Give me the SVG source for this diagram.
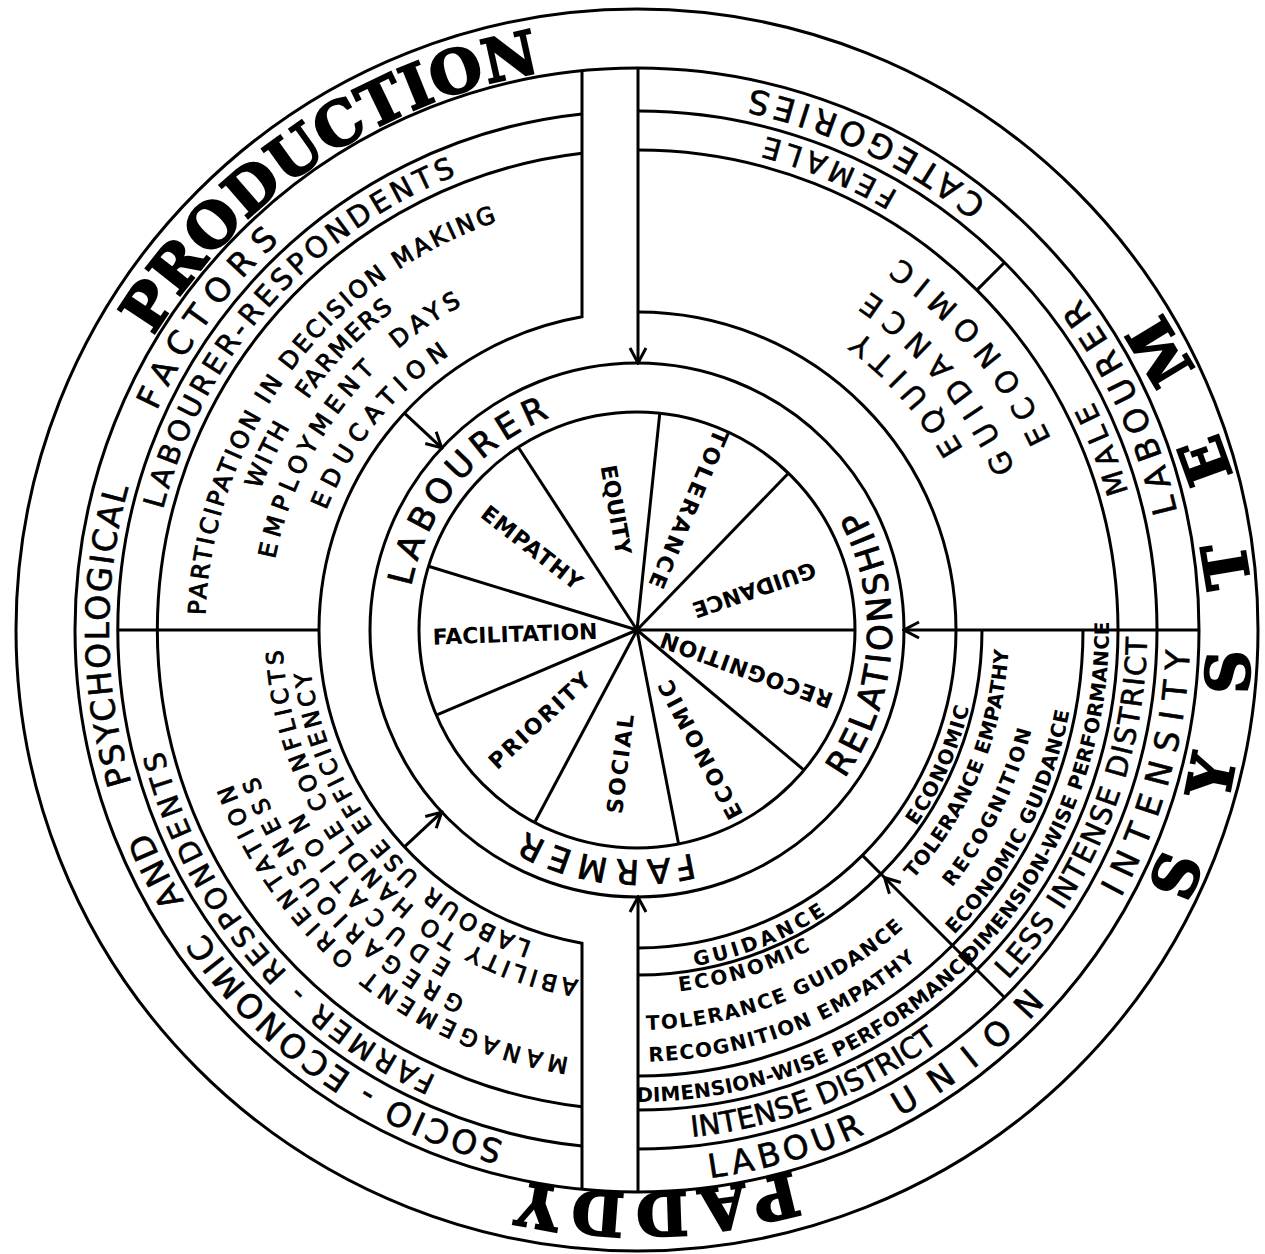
<svg xmlns="http://www.w3.org/2000/svg" width="1265" height="1254" viewBox="0 0 1265 1254">
<style>
.ln{fill:none;stroke:#000;stroke-width:3}
.big{font-family:"DejaVu Serif",serif;font-weight:bold;font-size:60px;text-anchor:middle;stroke:#000;stroke-width:2.2}
.r1{font-family:"DejaVu Sans",sans-serif;font-size:33px;text-anchor:middle;stroke:#000;stroke-width:0.6}
.r2{font-family:"DejaVu Sans",sans-serif;font-size:29px;text-anchor:middle;stroke:#000;stroke-width:0.6}
.tx{font-family:"DejaVu Sans",sans-serif;font-size:24px;text-anchor:middle;stroke:#000;stroke-width:0.9}
.tx2{font-family:"DejaVu Sans",sans-serif;font-size:23px;text-anchor:middle;stroke:#000;stroke-width:0.9}
.sm{font-family:"DejaVu Sans",sans-serif;font-weight:bold;font-size:20px;text-anchor:middle}
.md{font-family:"DejaVu Sans",sans-serif;font-size:30px;text-anchor:middle;stroke:#000;stroke-width:0.5}
.wh{font-family:"DejaVu Sans",sans-serif;font-weight:bold;font-size:22px;text-anchor:middle;dominant-baseline:central}
.lb{font-family:"DejaVu Sans",sans-serif;font-size:34px;text-anchor:middle;stroke:#000;stroke-width:0.8}
</style>
<defs>
<marker id="ah" markerUnits="userSpaceOnUse" viewBox="-18 -10 20 20" markerWidth="20" markerHeight="20" refX="0" refY="0" orient="auto">
<path d="M-15,-8 L0,0 L-15,8" fill="none" stroke="#000" stroke-width="3"/>
</marker>
<path id="cw566" d="M73.16,580.67 A566,566 0 0 1 1200.84,580.67"/>
<path id="cw563" d="M76.15,580.93 A563,563 0 0 1 1197.85,580.93"/>
<path id="cw528" d="M111.01,583.98 A528,528 0 0 1 1162.99,583.98"/>
<path id="cw489" d="M149.86,587.38 A489,489 0 0 1 1124.14,587.38"/>
<path id="cw433" d="M205.65,592.26 A433,433 0 0 1 1068.35,592.26"/>
<path id="cw432" d="M206.65,592.35 A432,432 0 0 1 1067.35,592.35"/>
<path id="cw407" d="M231.55,594.53 A407,407 0 0 1 1042.45,594.53"/>
<path id="cw402" d="M236.53,594.96 A402,402 0 0 1 1037.47,594.96"/>
<path id="cw381" d="M257.45,596.79 A381,381 0 0 1 1016.55,596.79"/>
<path id="cw369" d="M269.41,597.84 A369,369 0 0 1 1004.59,597.84"/>
<path id="cw355" d="M283.35,599.06 A355,355 0 0 1 990.65,599.06"/>
<path id="cw333" d="M305.27,600.98 A333,333 0 0 1 968.73,600.98"/>
<path id="cw329" d="M309.25,601.32 A329,329 0 0 1 964.75,601.32"/>
<path id="cw230" d="M407.88,609.95 A230,230 0 0 1 866.12,609.95"/>
<path id="ccw613" d="M26.34,683.43 A613,613 0 0 0 1247.66,683.43"/>
<path id="ccw553" d="M86.11,678.20 A553,553 0 0 0 1187.89,678.20"/>
<path id="ccw510" d="M128.94,674.45 A510,510 0 0 0 1145.06,674.45"/>
<path id="ccw472" d="M166.80,671.14 A472,472 0 0 0 1107.20,671.14"/>
<path id="ccw456" d="M182.74,669.74 A456,456 0 0 0 1091.26,669.74"/>
<path id="ccw440" d="M198.68,668.35 A440,440 0 0 0 1075.32,668.35"/>
<path id="ccw432" d="M206.65,667.65 A432,432 0 0 0 1067.35,667.65"/>
<path id="ccw411" d="M227.57,665.82 A411,411 0 0 0 1046.43,665.82"/>
<path id="ccw407" d="M231.55,665.47 A407,407 0 0 0 1042.45,665.47"/>
<path id="ccw400" d="M238.52,664.86 A400,400 0 0 0 1035.48,664.86"/>
<path id="ccw373" d="M265.42,662.51 A373,373 0 0 0 1008.58,662.51"/>
<path id="ccw372" d="M266.42,662.42 A372,372 0 0 0 1007.58,662.42"/>
<path id="ccw364" d="M274.39,661.73 A364,364 0 0 0 999.61,661.73"/>
<path id="ccw341" d="M297.30,659.72 A341,341 0 0 0 976.70,659.72"/>
<path id="ccw255" d="M382.97,652.23 A255,255 0 0 0 891.03,652.23"/>
</defs>
<rect width="1265" height="1254" fill="#fff"/>

<g id="connectors">
<circle class="ln" cx="637" cy="630" r="621"/>
<circle class="ln" cx="637" cy="630" r="562"/>
<path class="ln" d="M582,113.9 A519,519 0 0 0 582,1146.1"/>
<path class="ln" d="M638,111 A519,519 0 0 1 638,1149"/>
<path class="ln" d="M582,153.2 A480,480 0 0 0 582,1106.8"/>
<path class="ln" d="M638,150 A480,480 0 0 1 638,1110"/>
<path class="ln" d="M582,70.7 L582,316.8 A318,318 0 0 0 319,630 A318,318 0 0 0 582,943.2 L582,1189.3"/>
<path class="ln" d="M638,312 A318,318 0 0 1 638,948"/>
<path class="ln" d="M982,630 A345,345 0 0 1 638,975"/>
<path class="ln" d="M1083,630 A446,446 0 0 1 638,1076"/>
<circle class="ln" cx="637" cy="630" r="267"/>
<circle class="ln" cx="637" cy="630" r="218"/>
<line class="ln" x1="118" y1="630" x2="319" y2="630"/>
<line class="ln" x1="976.4" y1="290.6" x2="1004" y2="263"/>
<line class="ln" x1="884.5" y1="877.5" x2="861.9" y2="854.9"/>
<line class="ln" x1="1004" y1="997" x2="884.5" y2="877.5" marker-end="url(#ah)"/>
<line class="ln" x1="638" y1="68" x2="638" y2="363" marker-end="url(#ah)"/>
<line class="ln" x1="638" y1="1192" x2="638" y2="897" marker-end="url(#ah)"/>
<line class="ln" x1="1199" y1="630" x2="904" y2="630" marker-end="url(#ah)"/>
<line class="ln" x1="404.4" y1="413.1" x2="441.7" y2="447.9" marker-end="url(#ah)"/>
<line class="ln" x1="404.4" y1="846.9" x2="441.7" y2="812.1" marker-end="url(#ah)"/>
<g id="spokes">
<line class="ln" x1="637" y1="630" x2="659.8" y2="413.2"/>
<line class="ln" x1="637" y1="630" x2="788.4" y2="473.2"/>
<line class="ln" x1="637" y1="630" x2="855" y2="630"/>
<line class="ln" x1="637" y1="630" x2="804" y2="770.1"/>
<line class="ln" x1="637" y1="630" x2="678.6" y2="844"/>
<line class="ln" x1="637" y1="630" x2="534.6" y2="822.5"/>
<line class="ln" x1="637" y1="630" x2="436.3" y2="715.2"/>
<line class="ln" x1="637" y1="630" x2="428.5" y2="566.3"/>
<line class="ln" x1="637" y1="630" x2="518.3" y2="447.2"/>
</g>
</g>

<g id="outer-ring">
<text class="big" letter-spacing="0.5" transform="rotate(325.8 637 630)"><textPath href="#cw566" startOffset="50%">PRODUCTION</textPath></text>
<text class="big" font-size="58" letter-spacing="10" transform="rotate(178.4 637 630)"><textPath href="#cw563" startOffset="50%">PADDY</textPath></text>
<text class="big" letter-spacing="66" transform="rotate(-95.5 637 630)"><textPath href="#ccw613" startOffset="50%">SYSTEM</textPath></text>
</g>

<g id="factors-ring">
<text class="r1" letter-spacing="3.5" transform="rotate(215 637 630)"><textPath href="#cw528" startOffset="50%">SOCIO - ECONOMIC</textPath></text>
<text class="r1" letter-spacing="3" transform="rotate(243.5 637 630)"><textPath href="#cw528" startOffset="50%">AND</textPath></text>
<text class="r1" letter-spacing="2" transform="rotate(269.5 637 630)"><textPath href="#cw528" startOffset="50%">PSYCHOLOGICAL</textPath></text>
<text class="r1" letter-spacing="10" transform="rotate(306.5 637 630)"><textPath href="#cw528" startOffset="50%">FACTORS</textPath></text>
<text class="r1" letter-spacing="6" transform="rotate(-154.7 637 630)"><textPath href="#ccw553" startOffset="50%">CATEGORIES</textPath></text>
<text class="r1" letter-spacing="8" transform="rotate(-115 637 630)"><textPath href="#ccw553" startOffset="50%">LABOURER</textPath></text>
<text class="r1" letter-spacing="11" transform="rotate(-75 637 630)"><textPath href="#ccw553" startOffset="50%">INTENSITY</textPath></text>
<text class="r1" letter-spacing="19" transform="rotate(-39 637 630)"><textPath href="#ccw553" startOffset="50%">UNION</textPath></text>
<text class="r1" letter-spacing="5" transform="rotate(-16.2 637 630)"><textPath href="#ccw553" startOffset="50%">LABOUR</textPath></text>
</g>

<g id="respondents-ring">
<text class="r2" letter-spacing="4" transform="rotate(311.5 637 630)"><textPath href="#cw489" startOffset="50%">LABOURER-RESPONDENTS</textPath></text>
<text class="r2" letter-spacing="4" transform="rotate(230.2 637 630)"><textPath href="#cw489" startOffset="50%">FARMER - RESPONDENTS</textPath></text>
<text class="r2" letter-spacing="6" transform="rotate(-157.6 637 630)"><textPath href="#ccw510" startOffset="50%">FEMALE</textPath></text>
<text class="r2" letter-spacing="6" transform="rotate(-111.5 637 630)"><textPath href="#ccw510" startOffset="50%">MALE</textPath></text>
<text class="r2" transform="rotate(-21.2 637 630)"><textPath href="#ccw510" startOffset="50%">INTENSE DISTRICT</textPath></text>
<text class="r2" letter-spacing="1.5" transform="rotate(-68 637 630)"><textPath href="#ccw510" startOffset="50%">LESS INTENSE DISTRICT</textPath></text>
</g>

<g id="labourer-factors">
<text class="tx" letter-spacing="2.7" transform="rotate(306.7 637 630)"><textPath href="#cw432" startOffset="50%">PARTICIPATION IN DECISION MAKING</textPath></text>
<text class="tx" letter-spacing="2" transform="rotate(295.5 637 630)"><textPath href="#cw402" startOffset="50%">WITH</textPath></text>
<text class="tx" letter-spacing="2" transform="rotate(314 637 630)"><textPath href="#cw402" startOffset="50%">FARMERS</textPath></text>
<text class="tx" letter-spacing="6" transform="rotate(298.4 637 630)"><textPath href="#cw369" startOffset="50%">EMPLOYMENT</textPath></text>
<text class="tx" letter-spacing="5" transform="rotate(326 637 630)"><textPath href="#cw369" startOffset="50%">DAYS</textPath></text>
<text class="tx" letter-spacing="7.5" transform="rotate(309 637 630)"><textPath href="#cw333" startOffset="50%">EDUCATION</textPath></text>
</g>

<g id="farmer-factors">
<text class="tx2" letter-spacing="6" transform="rotate(219.5 637 630)"><textPath href="#cw433" startOffset="50%">MANAGEMENT ORIENTATION</textPath></text>
<text class="tx2" letter-spacing="7.5" transform="rotate(227.5 637 630)"><textPath href="#cw407" startOffset="50%">GREGARIOUSNESS</textPath></text>
<text class="tx2" letter-spacing="10" transform="rotate(226 637 630)"><textPath href="#cw381" startOffset="50%">EDUCATION</textPath></text>
<text class="tx2" letter-spacing="4.4" transform="rotate(228.5 637 630)"><textPath href="#cw355" startOffset="50%">ABILITY TO HANDLE CONFLICTS</textPath></text>
<text class="tx2" letter-spacing="4" transform="rotate(231 637 630)"><textPath href="#cw329" startOffset="50%">LABOUR USE EFFICIENCY</textPath></text>
</g>

<g id="female-factors">
<text class="md" letter-spacing="9.5" transform="rotate(-131.8 637 630)"><textPath href="#ccw373" startOffset="50%">EQUITY</textPath></text>
<text class="md" letter-spacing="10.5" transform="rotate(-130 637 630)"><textPath href="#ccw411" startOffset="50%">GUIDANCE</textPath></text>
<text class="md" letter-spacing="10.5" transform="rotate(-130.4 637 630)"><textPath href="#ccw456" startOffset="50%">ECONOMIC</textPath></text>
</g>

<g id="intensity-factors">
<text class="sm" font-size="25" letter-spacing="3.6" transform="rotate(-22 637 630)"><textPath href="#ccw341" startOffset="50%">GUIDANCE</textPath></text>
<text class="sm" font-size="25" letter-spacing="1.4" transform="rotate(-66 637 630)"><textPath href="#ccw341" startOffset="50%">ECONOMIC</textPath></text>
<text class="sm" letter-spacing="2.5" transform="rotate(-17.8 637 630)"><textPath href="#ccw364" startOffset="50%">ECONOMIC</textPath></text>
<text class="sm" letter-spacing="1.5" transform="rotate(-21.7 637 630)"><textPath href="#ccw400" startOffset="50%">TOLERANCE GUIDANCE</textPath></text>
<text class="sm" letter-spacing="1.3" transform="rotate(-21 637 630)"><textPath href="#ccw432" startOffset="50%">RECOGNITION EMPATHY</textPath></text>
<text class="sm" letter-spacing="0.5" transform="rotate(-67.5 637 630)"><textPath href="#ccw372" startOffset="50%">TOLERANCE EMPATHY</textPath></text>
<text class="sm" letter-spacing="2.2" transform="rotate(-63.4 637 630)"><textPath href="#ccw407" startOffset="50%">RECOGNITION</textPath></text>
<text class="sm" letter-spacing="0.6" transform="rotate(-62.8 637 630)"><textPath href="#ccw440" startOffset="50%">ECONOMIC GUIDANCE</textPath></text>
<text class="sm" font-size="16.5" letter-spacing="0.3" transform="rotate(-23 637 630)"><textPath href="#ccw472" startOffset="50%">DIMENSION-WISE PERFORMANCE</textPath></text>
<text class="sm" font-size="16.5" letter-spacing="0.3" transform="rotate(-68 637 630)"><textPath href="#ccw472" startOffset="50%">DIMENSION-WISE PERFORMANCE</textPath></text>
</g>

<g id="relationship-ring">
<text class="lb" letter-spacing="6" transform="rotate(310 637 630)"><textPath href="#cw230" startOffset="50%">LABOURER</textPath></text>
<text class="lb" letter-spacing="6.8" transform="rotate(188.3 637 630)"><textPath href="#cw230" startOffset="50%">FARMER</textPath></text>
<text class="lb" font-size="32" letter-spacing="3.5" transform="rotate(-86.75 637 630)"><textPath href="#ccw255" startOffset="50%">RELATIONSHIP</textPath></text>
</g>

<g id="wheel">
<text class="wh" transform="rotate(-100 637 630) translate(759 630) rotate(180)">EQUITY</text>
<text class="wh" letter-spacing="3" transform="rotate(-67 637 630) translate(767 630) rotate(180)">TOLERANCE</text>
<text class="wh" transform="rotate(-19 637 630) translate(761 630) rotate(180)">GUIDANCE</text>
<text class="wh" letter-spacing="1" transform="rotate(20 637 630) translate(753 630) rotate(180)">RECOGNITION</text>
<text class="wh" letter-spacing="3" transform="rotate(62 637 630) translate(771 630) rotate(180)">ECONOMIC</text>
<text class="wh" letter-spacing="2" transform="rotate(97 637 630) translate(771 630) rotate(180)">SOCIAL</text>
<text class="wh" letter-spacing="2" transform="rotate(137 637 630) translate(769 630) rotate(180)">PRIORITY</text>
<text class="wh" transform="rotate(178 637 630) translate(759 630) rotate(180)">FACILITATION</text>
<text class="wh" letter-spacing="1" transform="rotate(218 637 630) translate(770 630) rotate(180)">EMPATHY</text>
</g>
</svg>
